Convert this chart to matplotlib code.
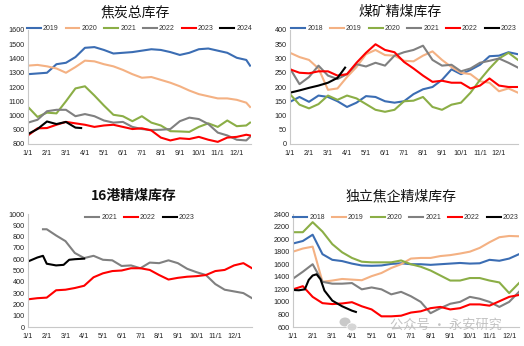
import numpy as np
import matplotlib
matplotlib.use("Agg")
import matplotlib.pyplot as plt
from matplotlib.patches import Ellipse

plt.rcParams['font.family'] = ['Liberation Sans', 'Noto Sans CJK SC', 'DejaVu Sans']

# ---- shared x grid (month index, half-month steps) ----
HALF = [i * 0.5 for i in range(24)]
MONTH_LABELS = ["1/1", "2/1", "3/1", "4/1", "5/1", "6/1", "7/1", "8/1", "9/1", "10/1", "11/1", "12/1"]

COL = {"2018": "#3B6DB3", "2019": "#3B6DB3", "2020": "#F4B183", "2021": "#8BAE46",
       "2022": "#808080", "2023": "#FF0000", "2024": "#000000"}

# ---- Chart 1: 焦炭总库存 ----
c1_x = HALF + [11.7]
c1_2019 = [1290, 1295, 1300, 1360, 1370, 1410, 1475, 1480, 1460, 1435, 1440, 1445, 1455, 1465, 1460,
           1445, 1425, 1440, 1465, 1470, 1455, 1440, 1405, 1390, 1350]
c1_2020 = [1350, 1355, 1345, 1330, 1300, 1340, 1385, 1380, 1360, 1345, 1320, 1290, 1265, 1270, 1250,
           1230, 1205, 1175, 1150, 1135, 1120, 1120, 1110, 1090, 1060]
c1_2021 = [1060, 990, 1020, 1015, 1100, 1190, 1205, 1140, 1070, 1005, 995, 960, 995, 950, 930,
           890, 888, 885, 920, 945, 920, 965, 925, 930, 950]
c1_2022 = [950, 970, 1030, 1040, 1040, 995, 1010, 995, 965, 950, 955, 920, 905, 898, 900,
           905, 960, 985, 975, 940, 880, 860, 830, 825, 850]
c1_2023 = [860, 910, 912, 935, 955, 945, 935, 920, 930, 935, 920, 905, 910, 895, 845,
           825, 840, 835, 850, 830, 815, 845, 850, 865, 860]
c1_2024_x = [0, 0.5, 1.0, 1.5, 2.0, 2.5, 2.8]
c1_2024 = [870, 905, 958, 940, 955, 915, 912]

# ---- Chart 2: 煤矿精煤库存 ----
c2_x = HALF + [12.0]
c2_2018 = [148, 165, 148, 170, 165, 150, 130, 145, 168, 165, 150, 145, 150, 175, 192,
           200, 225, 262, 245, 260, 278, 308, 310, 322, 315]
c2_2019 = [320, 305, 295, 265, 190, 195, 235, 270, 315, 330, 312, 310, 292, 290, 310,
           325, 295, 270, 250, 245, 220, 215, 185, 195, 180]
c2_2020 = [175, 138, 125, 140, 170, 155, 170, 160, 140, 120, 113, 120, 150, 152, 165,
           130, 120, 138, 145, 180, 225, 265, 300, 320, 295]
c2_2021 = [265, 210, 235, 275, 240, 228, 245, 280, 272, 285, 275, 310, 322, 330, 345,
           295, 275, 278, 255, 265, 285, 292, 300, 285, 268]
c2_2022 = [262, 250, 248, 255, 255, 240, 245, 285, 320, 350, 330, 322, 288, 265, 240,
           218, 222, 215, 215, 195, 205, 230, 205, 200, 200]
c2_2023_x = [0, 0.5, 1.0, 1.5, 2.0, 2.5, 2.9]
c2_2023 = [180, 188, 197, 205, 215, 232, 268]

# ---- Chart 3: 16港精煤库存 ----
c3_2021_x = [0.8] + HALF[2:] + [11.96]
c3_2021 = [865, 865, 810, 760, 655, 610, 630, 595, 590, 540, 545, 520, 570, 565, 590,
           565, 515, 485, 460, 380, 330, 315, 300, 255]
c3_2022_x = HALF + [11.96]
c3_2022 = [245, 255, 260, 325, 330, 345, 365, 440, 475, 495, 500, 520, 520, 505, 460,
           420, 435, 445, 450, 460, 495, 505, 545, 565, 520]
c3_2023_x = [0, 0.5, 0.8, 1.0, 1.5, 1.9, 2.2, 2.5, 3.0]
c3_2023 = [580, 615, 630, 560, 545, 550, 595, 600, 605]

# ---- Chart 4: 独立焦企精煤库存 ----
c4_x = HALF
c4_2018 = [1930, 1970, 2070, 1760, 1670, 1650, 1610, 1580, 1575, 1580, 1605, 1615, 1600, 1600, 1590,
           1600, 1610, 1620, 1610, 1615, 1670, 1655, 1690, 1760]
c4_2019 = [1800, 1850, 1880, 1320, 1340, 1365, 1355, 1345, 1410, 1460, 1540, 1600, 1690, 1700, 1700,
           1730, 1745, 1770, 1800, 1860, 1950, 2030, 2050, 2045]
c4_2020 = [2110, 2110, 2270, 2120, 1920, 1790, 1700, 1640, 1630, 1630, 1630, 1660, 1600, 1560, 1500,
           1420, 1340, 1340, 1380, 1380, 1340, 1310, 1140, 1300]
c4_2021 = [1370, 1480, 1600, 1320, 1290, 1290, 1300, 1200, 1230, 1200, 1120, 1160, 1090, 1000, 820,
           900, 970, 1000, 1080, 1050, 1000, 920, 1000, 1160]
c4_2022 = [1200, 1250, 1080, 980, 965, 975, 995, 930, 880, 770, 770, 780, 830, 850, 900,
           920, 880, 900, 960, 960, 940, 1010, 1080, 1110]
c4_2023_x = [0, 0.3, 0.6, 0.8, 1.0, 1.2, 1.4, 1.6, 2.0, 2.5, 3.0, 3.2]
c4_2023 = [1190, 1185, 1200, 1350, 1420, 1440, 1360, 1180, 1020, 930, 860, 840]

W, H = 524, 346
fig = plt.figure(figsize=(W / 100, H / 100), dpi=100)


def make_ax(rect_px, xmax, ylim, yticks):
    l, t, r, b = rect_px
    ax = fig.add_axes([l / W, 1 - b / H, (r - l) / W, (b - t) / H])
    ax.set_xlim(0, xmax)
    ax.set_ylim(*ylim)
    ax.set_yticks(yticks)
    ax.set_xticks(range(12))
    ax.set_xticklabels(MONTH_LABELS)
    for s in ("top", "right"):
        ax.spines[s].set_visible(False)
    for s in ("left", "bottom"):
        ax.spines[s].set_color("#C8C8C8")
        ax.spines[s].set_linewidth(0.8)
    ax.tick_params(axis="both", length=0, labelsize=5.2, colors="#222222", pad=2.5)
    ax.tick_params(axis="x", pad=4)
    return ax


def legend(ax, y=1.06):
    leg = ax.legend(loc="upper center", bbox_to_anchor=(0.5, y), ncol=6, frameon=False,
                    fontsize=5.0, handlelength=2.0, handletextpad=0.3, columnspacing=1.0,
                    borderaxespad=0, borderpad=0)
    for t in leg.get_texts():
        t.set_color("#333333")


LW = 1.5

# Chart 1
ax1 = make_ax((28, 30, 251, 144), 11.75, (800, 1600), range(800, 1601, 100))
ax1.plot(c1_x, c1_2019, color=COL["2019"], lw=LW, label="2019")
ax1.plot(c1_x, c1_2020, color=COL["2020"], lw=LW, label="2020")
ax1.plot(c1_x, c1_2021, color=COL["2021"], lw=LW, label="2021")
ax1.plot(c1_x, c1_2022, color=COL["2022"], lw=LW, label="2022")
ax1.plot(c1_x, c1_2023, color=COL["2023"], lw=LW, label="2023")
ax1.plot(c1_2024_x, c1_2024, color=COL["2024"], lw=LW, label="2024")
legend(ax1, y=1.04)
fig.text(135 / W, 1 - 12 / H, "焦炭总库存", ha="center", va="center", fontsize=10,
         family=["Noto Sans CJK SC"], color="#111111")

# Chart 2
ax2 = make_ax((290, 30, 518, 144), 12.0, (0, 400), range(0, 401, 50))
ax2.plot(c2_x, c2_2018, color="#3B6DB3", lw=LW, label="2018")
ax2.plot(c2_x, c2_2019, color="#F4B183", lw=LW, label="2019")
ax2.plot(c2_x, c2_2020, color="#8BAE46", lw=LW, label="2020")
ax2.plot(c2_x, c2_2021, color="#808080", lw=LW, label="2021")
ax2.plot(c2_x, c2_2022, color="#FF0000", lw=LW, label="2022")
ax2.plot(c2_2023_x, c2_2023, color="#000000", lw=LW, label="2023")
legend(ax2, y=1.04)
fig.text(400 / W, 1 - 12 / H, "煤矿精煤库存", ha="center", va="center", fontsize=10,
         family=["Noto Sans CJK SC"], color="#111111")

# Chart 3
ax3 = make_ax((28, 214, 252, 327), 11.96, (0, 1000), range(0, 1001, 100))
ax3.plot(c3_2021_x, c3_2021, color="#808080", lw=LW, label="2021")
ax3.plot(c3_2022_x, c3_2022, color="#FF0000", lw=LW, label="2022")
ax3.plot(c3_2023_x, c3_2023, color="#000000", lw=LW, label="2023")
legend(ax3, y=1.0)
fig.text(134 / W, 1 - 196 / H, "16港精煤库存", ha="center", va="center", fontsize=10,
         family=["Noto Sans CJK SC"], fontweight="bold", color="#111111")

# Chart 4
ax4 = make_ax((293, 214, 519, 327), 11.5, (600, 2400), range(600, 2401, 200))
ax4.plot(c4_x, c4_2018, color="#3B6DB3", lw=LW, label="2018")
ax4.plot(c4_x, c4_2019, color="#F4B183", lw=LW, label="2019")
ax4.plot(c4_x, c4_2020, color="#8BAE46", lw=LW, label="2020")
ax4.plot(c4_x, c4_2021, color="#808080", lw=LW, label="2021")
ax4.plot(c4_x, c4_2022, color="#FF0000", lw=LW, label="2022")
ax4.plot(c4_2023_x, c4_2023, color="#000000", lw=LW, label="2023")
legend(ax4, y=1.0)
fig.text(401 / W, 1 - 196 / H, "独立焦企精煤库存", ha="center", va="center", fontsize=10,
         family=["Noto Sans CJK SC"], color="#111111")

# watermark
fig.text(446 / W, 1 - 325 / H, "公众号 · 永安研究", ha="center", va="center", fontsize=9.5,
         family=["Noto Sans CJK SC", "DejaVu Sans"], color="#BDBDBD", alpha=0.9)
fig.patches.append(Ellipse((345 / W, 1 - 322 / H), 11 / W, 9 / H, transform=fig.transFigure,
                           facecolor="#C4C4C4", edgecolor="none", alpha=0.9))
fig.patches.append(Ellipse((352 / W, 1 - 327 / H), 10 / W, 8 / H, transform=fig.transFigure,
                           facecolor="#D4D4D4", edgecolor="white", lw=0.6, alpha=0.95))

fig.savefig("out.png", dpi=100)
